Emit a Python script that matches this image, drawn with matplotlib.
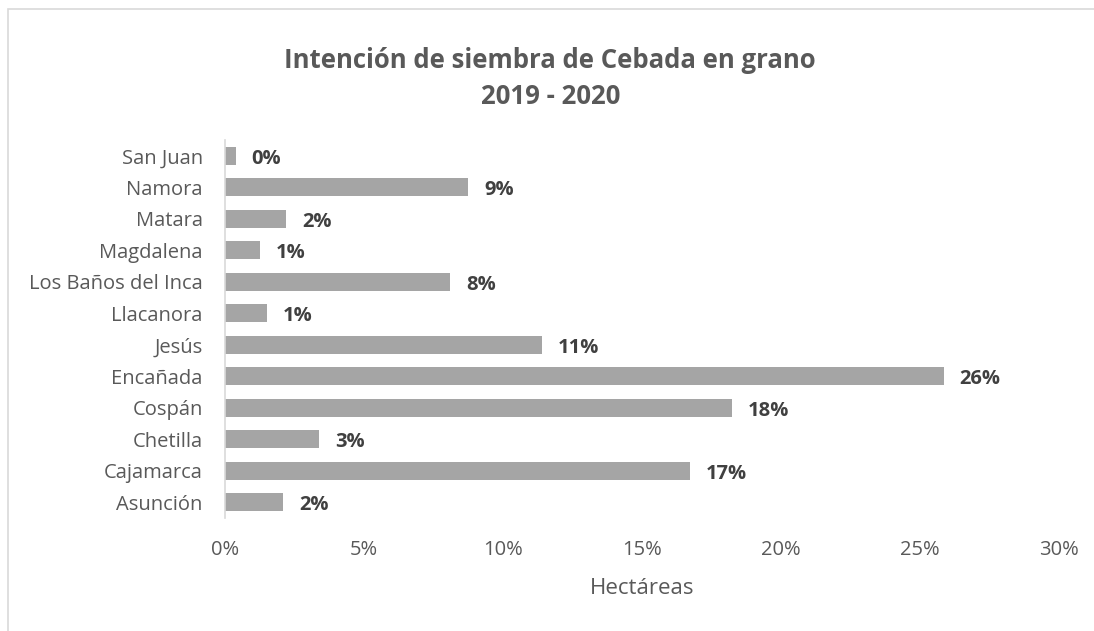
import matplotlib
matplotlib.use("Agg")
import matplotlib.pyplot as plt
from matplotlib.patches import Rectangle

# Datos
distritos = ["Asunción", "Cajamarca", "Chetilla", "Cospán", "Encañada", "Jesús",
             "Llacanora", "Los Baños del Inca", "Magdalena", "Matara", "Namora", "San Juan"]
porcentaje = [2.10, 16.72, 3.38, 18.23, 25.85, 11.39, 1.50, 8.10, 1.26, 2.19, 8.75, 0.38]
etiquetas = ["2%", "17%", "3%", "18%", "26%", "11%", "1%", "8%", "1%", "2%", "9%", "0%"]
ticks_x = [0, 5, 10, 15, 20, 25, 30]

plt.rcParams['font.family'] = ['Open Sans', 'DejaVu Sans']

fig = plt.figure(figsize=(10.94, 6.31), dpi=100)
ax = fig.add_axes([0.2057, 0.179, 0.968 - 0.2057, 0.778 - 0.179])

ax.barh(range(len(distritos)), porcentaje, height=0.57, color="#A5A5A5")
for i, (v, t) in enumerate(zip(porcentaje, etiquetas)):
    ax.annotate(t, (v, i), xytext=(11.5, -2), textcoords="offset points",
                va="center", ha="left", fontsize=14.5, fontweight="bold", color="#404040")

ax.set_xlim(0, 30)
ax.set_ylim(-0.5, len(distritos) - 0.5)
ax.set_xticks(ticks_x)
ax.set_xticklabels([f"{t}%" for t in ticks_x])
ax.set_yticks(range(len(distritos)))
ax.set_yticklabels(distritos)
ax.tick_params(axis="both", length=0, labelsize=14.5, labelcolor="#595959")
ax.tick_params(axis="x", pad=16)
ax.tick_params(axis="y", pad=16)
for lbl in ax.get_yticklabels():
    lbl.set_va("center_baseline")
for s in ["top", "right", "bottom"]:
    ax.spines[s].set_visible(False)
ax.spines["left"].set_color("#D9D9D9")
ax.spines["left"].set_linewidth(1.2)

ax.set_xlabel("Hectáreas", fontsize=16, color="#595959", labelpad=13)

fig.text(0.503, 1 - 60 / 631, "Intención de siembra de Cebada en grano", ha="center", va="center",
         fontsize=18.5, fontweight="bold", color="#595959")
fig.text(0.503, 1 - 96 / 631, "2019 - 2020", ha="center", va="center",
         fontsize=18.5, fontweight="bold", color="#595959")

# Borde del gráfico
fig.patches.append(Rectangle((8 / 1094, -0.1), 1.2, 1 - 9 / 631 + 0.1, transform=fig.transFigure,
                             fill=False, edgecolor="#D9D9D9", linewidth=1.2))

fig.savefig("out.png", dpi=100)
